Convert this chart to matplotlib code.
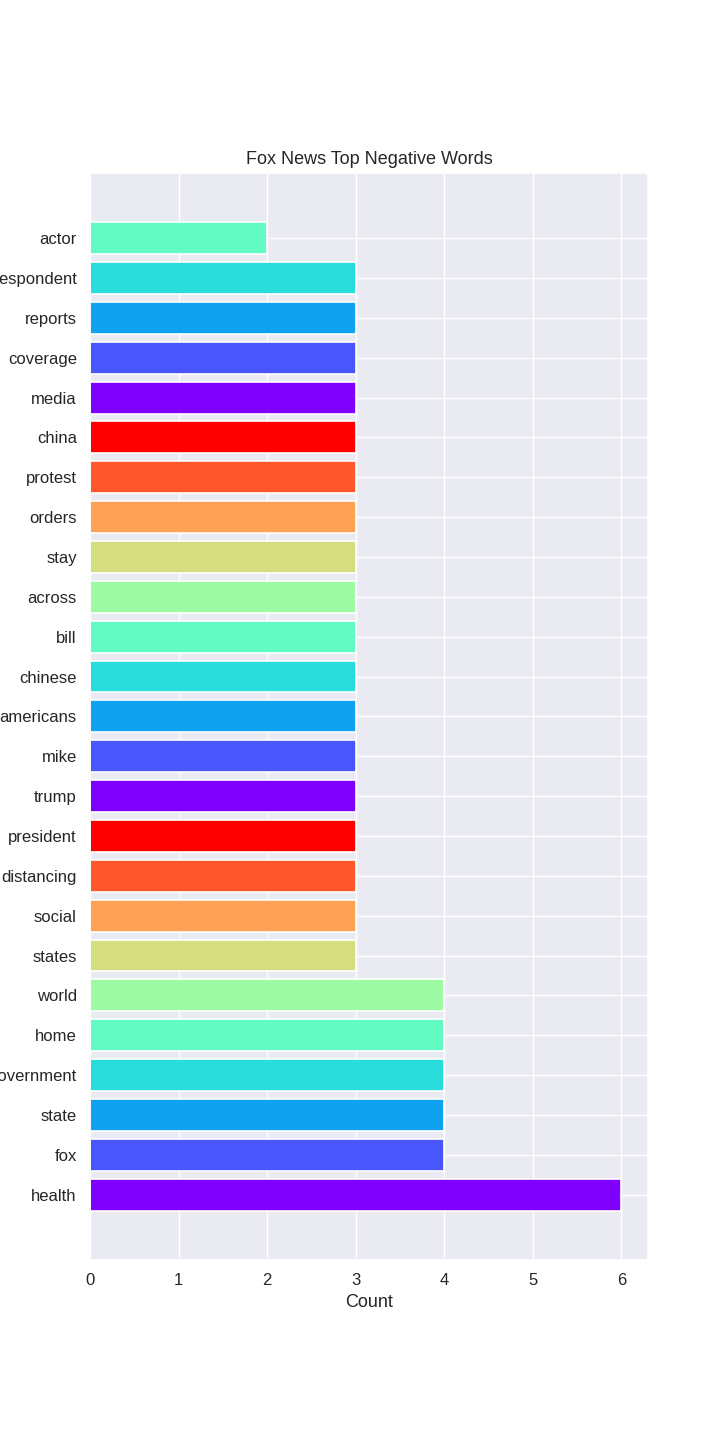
import numpy as np
import matplotlib.pyplot as plt
import seaborn as sns

sns.set_theme(style="darkgrid")
plt.rcParams['font.family'] = ['Liberation Sans', 'DejaVu Sans']

# Daten (von unten nach oben)
words = ["health", "fox", "state", "government", "home", "world", "states",
         "social", "distancing", "president", "trump", "mike", "americans",
         "chinese", "bill", "across", "stay", "orders", "protest", "china",
         "media", "coverage", "reports", "correspondent", "actor"]
counts = [6, 4, 4, 4, 4, 4, 3,
          3, 3, 3, 3, 3, 3,
          3, 3, 3, 3, 3, 3, 3,
          3, 3, 3, 3, 2]

palette = plt.cm.rainbow(np.linspace(0, 1, 10))
colors = [palette[i % 10] for i in range(len(words))]

fig, ax = plt.subplots(figsize=(7.2, 14.4), dpi=100)
fig.subplots_adjust(left=0.125, right=0.9, top=0.88, bottom=0.125)

ax.barh(words, counts, color=colors, edgecolor="white", linewidth=1.2)
ax.set_title("Fox News Top Negative Words", fontsize=13)
ax.set_xlabel("Count", fontsize=13)
ax.tick_params(labelsize=12)

plt.savefig("out.png")
